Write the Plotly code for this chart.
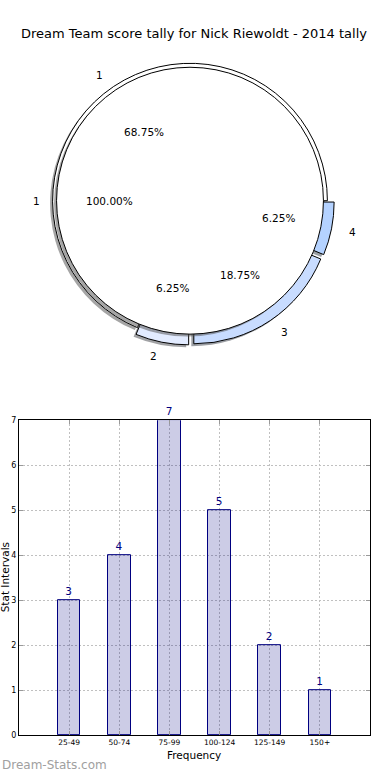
import math
import plotly.graph_objects as go

# ---------------- data ----------------
title_text = "Dream Team score tally for Nick Riewoldt - 2014 tally"

ring_labels = ["1", "2", "3", "4"]
ring_values = [11, 1, 3, 1]
ring_colors = ["#ffffff", "#e2ebff", "#c8dcff", "#b4d2ff"]
ring_pull = [0.0, 0.05, 0.05, 0.05]

core_labels = ["1"]
core_values = [16]
core_colors = ["#ffffff"]

bins = ["25-49", "50-74", "75-99", "100-124", "125-149", "150+"]
counts = [3, 4, 7, 5, 2, 1]

# ---------------- geometry ----------------
W, H = 390, 780
CX, CY = 190, 199          # pie centre, px from top-left
R_IN = 135
R_OUT = 139
SHADOW = 2.5
FONT = "DejaVu Sans"


def dom(cx, cy, half):
    return dict(x=[(cx - half) / W, (cx + half) / W],
                y=[1 - (cy + half) / H, 1 - (cy - half) / H])


def shade(hexcol):
    r = int(hexcol[1:3], 16); g = int(hexcol[3:5], 16); b = int(hexcol[5:7], 16)
    return "rgba(%d,%d,%d,0.5)" % (0.3 * r, 0.3 * g, 0.3 * b)


def start_rotation(values):
    # first slice starts at 3 o'clock and the slices run counter-clockwise
    return 90 - 360.0 * values[0] / float(sum(values))


fig = go.Figure()

outer_half = R_OUT * (1 + max(ring_pull))
pie_common = dict(sort=False, direction="counterclockwise",
                  textinfo="none", hoverinfo="label+percent", showlegend=False)

# outer ring shadow + ring
fig.add_trace(go.Pie(labels=ring_labels, values=ring_values, pull=ring_pull,
                     rotation=start_rotation(ring_values),
                     domain=dom(CX - SHADOW, CY + SHADOW, outer_half),
                     marker=dict(colors=[shade(c) for c in ring_colors],
                                 line=dict(width=0)), **pie_common))
fig.add_trace(go.Pie(labels=ring_labels, values=ring_values, pull=ring_pull,
                     rotation=start_rotation(ring_values),
                     domain=dom(CX, CY, outer_half),
                     marker=dict(colors=ring_colors,
                                 line=dict(color="black", width=1)), **pie_common))
# inner pie shadow + pie
fig.add_trace(go.Pie(labels=core_labels, values=core_values,
                     rotation=start_rotation(core_values),
                     domain=dom(CX - SHADOW, CY + SHADOW, R_IN),
                     marker=dict(colors=[shade(c) for c in core_colors],
                                 line=dict(width=0)), **pie_common))
fig.add_trace(go.Pie(labels=core_labels, values=core_values,
                     rotation=start_rotation(core_values),
                     domain=dom(CX, CY, R_IN),
                     marker=dict(colors=core_colors,
                                 line=dict(color="black", width=1)), **pie_common))

annotations = []


def add_pie_text(labels, values, pulls, radius):
    total = float(sum(values))
    cum = 0.0
    for lab, v, p in zip(labels, values, pulls):
        mid = (cum + v / 2.0) / total
        cum += v
        th = 2 * math.pi * mid
        off = p * radius
        c, s = math.cos(th), math.sin(th)
        # category label outside the slice, aligned away from the centre
        d = 1.1 * radius + off
        annotations.append(dict(x=(CX + d * c) / W, y=1 - (CY - d * s) / H,
                                xref="paper", yref="paper", text=lab, showarrow=False,
                                xanchor="left" if c > 0 else "right", yanchor="middle",
                                font=dict(family=FONT, size=10.5, color="black")))
        # percentage inside the slice
        d = 0.6 * radius + off
        annotations.append(dict(x=(CX + d * c) / W, y=1 - (CY - d * s) / H,
                                xref="paper", yref="paper",
                                text="%.2f%%" % (100 * v / total), showarrow=False,
                                xanchor="center", yanchor="middle",
                                font=dict(family=FONT, size=10.5, color="black")))


add_pie_text(ring_labels, ring_values, ring_pull, R_OUT)
add_pie_text(core_labels, core_values, [0.0] * len(core_values), R_IN)

# ---------------- bar chart ----------------
fig.add_trace(go.Bar(x=bins, y=counts, width=0.45, xaxis="x", yaxis="y",
                     marker=dict(color="rgba(0,0,128,0.2)",
                                 line=dict(color="#000080", width=1)),
                     text=[str(c) for c in counts], textposition="outside",
                     textfont=dict(family=FONT, size=10.5, color="#000080"),
                     cliponaxis=False, showlegend=False))

axis_common = dict(showgrid=True, gridcolor="#c0c0c0", griddash="2px,2px", gridwidth=1,
                   showline=True, linecolor="black", linewidth=1, mirror="allticks",
                   ticks="inside", ticklen=4, tickcolor="#999999", zeroline=False,
                   tickfont=dict(family=FONT, size=7.5, color="black"))

annotations += [
    dict(x=194 / W, y=1 - 760 / H, xref="paper", yref="paper", text="Frequency",
         showarrow=False, xanchor="center", yanchor="middle",
         font=dict(family=FONT, size=10.5, color="black")),
    dict(x=5 / W, y=1 - 580 / H, xref="paper", yref="paper", text="Stat Intervals",
         textangle=-90, showarrow=False, xanchor="center", yanchor="middle",
         font=dict(family=FONT, size=10.5, color="black")),
    dict(x=0, y=1 - 770 / H, xref="paper", yref="paper", text="Dream-Stats.com",
         showarrow=False, xanchor="left", yanchor="middle",
         font=dict(family=FONT, size=12, color="#a0a0a0")),
]

fig.update_layout(
    width=W, height=H, autosize=False,
    margin=dict(l=0, r=0, t=0, b=0),
    paper_bgcolor="white", plot_bgcolor="white",
    title=dict(text=title_text, x=194 / W, xanchor="center", y=1 - 30 / H,
               yanchor="middle", xref="paper", yref="paper",
               font=dict(family=FONT, size=13, color="black")),
    xaxis=dict(domain=[19 / W, 370 / W], anchor="y", type="category",
               range=[-1, 6], **axis_common),
    yaxis=dict(domain=[40 / H, 359 / H], anchor="x", range=[0, 7], dtick=1,
               **{**axis_common, "tickfont": dict(family=FONT, size=8, color="black")}),
    annotations=annotations,
    bargap=0,
)

fig.write_html("out.html", config={"displayModeBar": False},
               post_script="document.body.style.margin='0px';")
